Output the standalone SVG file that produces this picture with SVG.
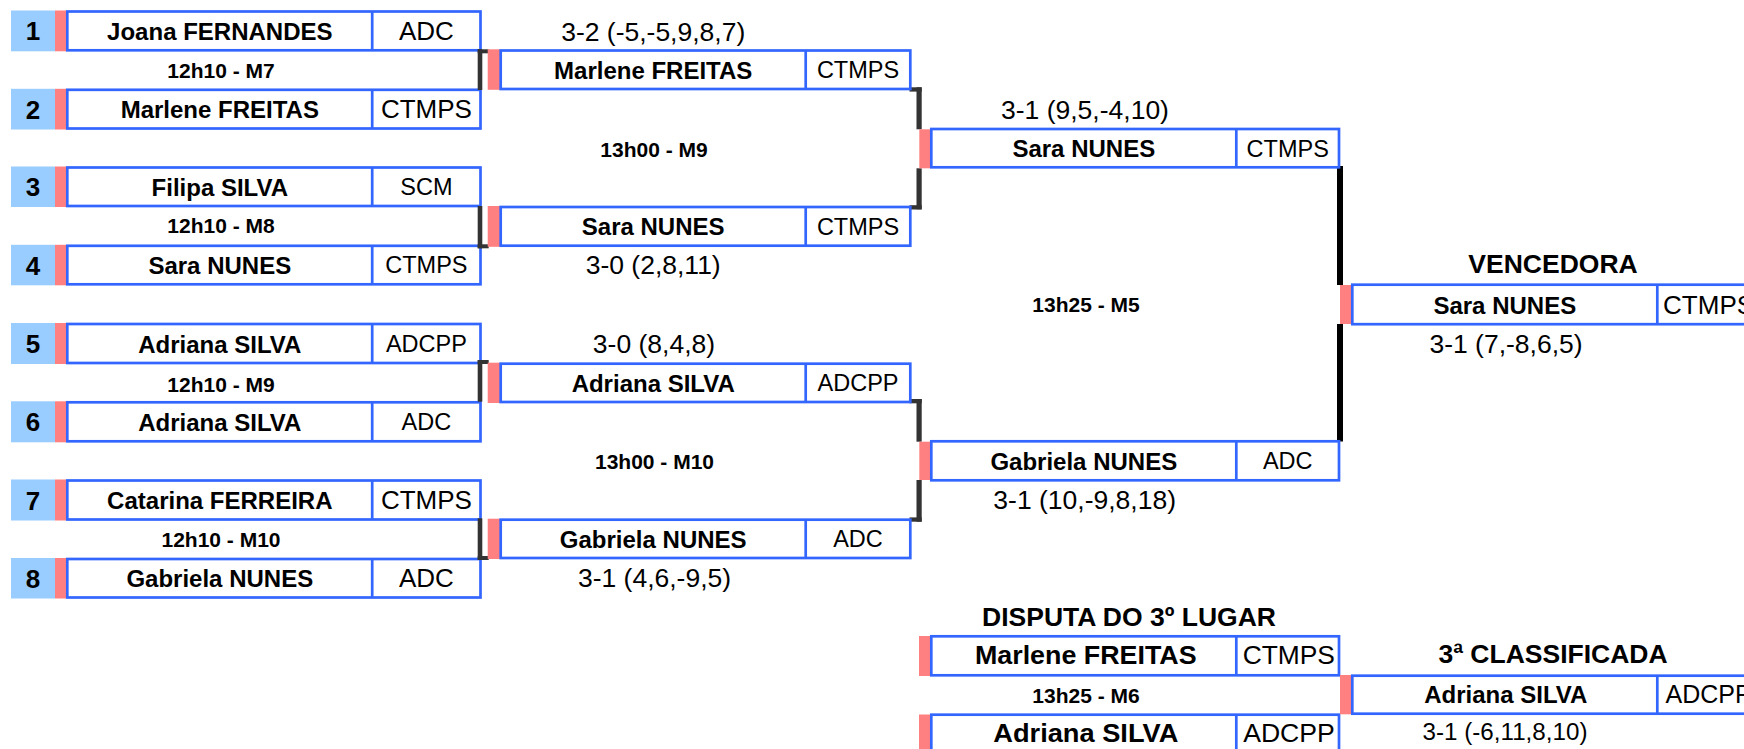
<svg xmlns="http://www.w3.org/2000/svg" width="1744" height="749" viewBox="0 0 1744 749">
<style>
.bg{fill:#fff}
.seed{fill:#99CCFF}
.red{fill:#FF8080}
.box{fill:#fff;stroke:#3366FF;stroke-width:2.7}
.div{stroke:#3366FF;stroke-width:2.7}
.br{fill:#333}
.brf{fill:#000}
text{font-family:"Liberation Sans",Arial,sans-serif;text-anchor:middle;fill:#000}
.sd{font-weight:bold;font-size:26px}
.nm{font-weight:bold;font-size:24px}
.cl{font-size:26px}
.cs{font-size:23.5px}
.sc{font-size:26.5px}
.tm{font-weight:bold;font-size:21px}
.hd{font-weight:bold;font-size:26.5px}
</style>
<rect class="bg" x="0" y="0" width="1744" height="749"/>

<!-- Round 1 -->
<g id="p1"><rect class="seed" x="11" y="10.5" width="44" height="40.8"/><rect class="red" x="55" y="10.5" width="11" height="40.8"/><rect class="box" x="67.3" y="11.5" width="413.2" height="38.8"/><line class="div" x1="372.2" y1="11.5" x2="372.2" y2="50.3"/><text class="sd" x="33" y="40.4">1</text><text class="nm" x="219.8" y="40">Joana FERNANDES</text><text class="cl" x="426.4" y="40">ADC</text></g>
<g id="p2"><rect class="seed" x="11" y="88.8" width="44" height="40.7"/><rect class="red" x="55" y="88.8" width="11" height="40.7"/><rect class="box" x="67.3" y="89.8" width="413.2" height="38.7"/><line class="div" x1="372.2" y1="89.8" x2="372.2" y2="128.5"/><text class="sd" x="33" y="118.7">2</text><text class="nm" x="219.8" y="118.2">Marlene FREITAS</text><text class="cl" x="426.4" y="118.2">CTMPS</text></g>
<g id="p3"><rect class="seed" x="11" y="166.5" width="44" height="40.5"/><rect class="red" x="55" y="166.5" width="11" height="40.5"/><rect class="box" x="67.3" y="167.5" width="413.2" height="38.5"/><line class="div" x1="372.2" y1="167.5" x2="372.2" y2="206"/><text class="sd" x="33" y="196.3">3</text><text class="nm" x="219.8" y="195.8">Filipa SILVA</text><text class="cs" x="426.4" y="195">SCM</text></g>
<g id="p4"><rect class="seed" x="11" y="244.8" width="44" height="40.5"/><rect class="red" x="55" y="244.8" width="11" height="40.5"/><rect class="box" x="67.3" y="245.8" width="413.2" height="38.5"/><line class="div" x1="372.2" y1="245.8" x2="372.2" y2="284.3"/><text class="sd" x="33" y="274.6">4</text><text class="nm" x="219.8" y="274">Sara NUNES</text><text class="cs" x="426.4" y="273.3">CTMPS</text></g>
<g id="p5"><rect class="seed" x="11" y="323" width="44" height="41"/><rect class="red" x="55" y="323" width="11" height="41"/><rect class="box" x="67.3" y="324" width="413.2" height="39"/><line class="div" x1="372.2" y1="324" x2="372.2" y2="363"/><text class="sd" x="33" y="353">5</text><text class="nm" x="219.8" y="352.5">Adriana SILVA</text><text class="cs" x="426.4" y="351.8">ADCPP</text></g>
<g id="p6"><rect class="seed" x="11" y="401.3" width="44" height="41"/><rect class="red" x="55" y="401.3" width="11" height="41"/><rect class="box" x="67.3" y="402.3" width="413.2" height="39"/><line class="div" x1="372.2" y1="402.3" x2="372.2" y2="441.3"/><text class="sd" x="33" y="431.3">6</text><text class="nm" x="219.8" y="430.8">Adriana SILVA</text><text class="cs" x="426.4" y="430">ADC</text></g>
<g id="p7"><rect class="seed" x="11" y="479.5" width="44" height="41"/><rect class="red" x="55" y="479.5" width="11" height="41"/><rect class="box" x="67.3" y="480.5" width="413.2" height="39"/><line class="div" x1="372.2" y1="480.5" x2="372.2" y2="519.5"/><text class="sd" x="33" y="509.5">7</text><text class="nm" x="219.8" y="509">Catarina FERREIRA</text><text class="cl" x="426.4" y="509">CTMPS</text></g>
<g id="p8"><rect class="seed" x="11" y="558" width="44" height="40.5"/><rect class="red" x="55" y="558" width="11" height="40.5"/><rect class="box" x="67.3" y="559" width="413.2" height="38.5"/><line class="div" x1="372.2" y1="559" x2="372.2" y2="597.5"/><text class="sd" x="33" y="587.8">8</text><text class="nm" x="219.8" y="587.3">Gabriela NUNES</text><text class="cl" x="426.4" y="587.3">ADC</text></g>

<g id="times-r1">
<text class="tm" x="221" y="78.3">12h10 - M7</text>
<text class="tm" x="221" y="233.3">12h10 - M8</text>
<text class="tm" x="221" y="391.7">12h10 - M9</text>
<text class="tm" x="221" y="547.3">12h10 - M10</text>
</g>

<!-- Connectors -->
<g id="connectors">
<rect class="br" x="477.7" y="49.3" width="4.6" height="40.7"/><rect class="br" x="477.7" y="49.3" width="11" height="4"/>
<rect class="br" x="477.7" y="206" width="4.6" height="42.3"/><rect class="br" x="477.7" y="244.3" width="11" height="4"/>
<rect class="br" x="477.7" y="360" width="4.6" height="41.7"/><rect class="br" x="477.7" y="360" width="11" height="4"/>
<rect class="br" x="477.7" y="518.3" width="4.6" height="41.7"/><rect class="br" x="477.7" y="556" width="11" height="4"/>

<rect class="br" x="909.5" y="87.3" width="12.2" height="4.3"/><rect class="br" x="916.5" y="87.3" width="5.2" height="42"/>
<rect class="br" x="916.5" y="168.3" width="5.2" height="41"/><rect class="br" x="909.5" y="205.2" width="12.2" height="4.3"/>
<rect class="br" x="909.5" y="399" width="12.2" height="4.3"/><rect class="br" x="916.5" y="399" width="5.2" height="42.7"/>
<rect class="br" x="916.5" y="480" width="5.2" height="41.7"/><rect class="br" x="909.5" y="517.4" width="12.2" height="4.3"/>

<rect class="brf" x="1337" y="166" width="6" height="119"/>
<rect class="brf" x="1337" y="324" width="6" height="117.5"/>
</g>

<!-- Round 2 -->
<g id="r2-m7"><rect class="red" x="487.7" y="49.3" width="12.3" height="40.5"/><rect class="box" x="500.7" y="50.5" width="409.6" height="38.5"/><line class="div" x1="805.7" y1="50.5" x2="805.7" y2="89"/><text class="nm" x="653.2" y="79">Marlene FREITAS</text><text class="cs" x="858" y="78.3">CTMPS</text></g>
<g id="r2-m8"><rect class="red" x="487.7" y="206" width="12.3" height="40.8"/><rect class="box" x="500.7" y="207" width="409.6" height="38.7"/><line class="div" x1="805.7" y1="207" x2="805.7" y2="245.7"/><text class="nm" x="653.2" y="235.4">Sara NUNES</text><text class="cs" x="858" y="234.7">CTMPS</text></g>
<g id="r2-m9"><rect class="red" x="487.7" y="362.7" width="12.3" height="40.3"/><rect class="box" x="500.7" y="363.7" width="409.6" height="38.3"/><line class="div" x1="805.7" y1="363.7" x2="805.7" y2="402"/><text class="nm" x="653.2" y="392">Adriana SILVA</text><text class="cs" x="858" y="391.2">ADCPP</text></g>
<g id="r2-m10"><rect class="red" x="487.7" y="518.7" width="12.3" height="40.3"/><rect class="box" x="500.7" y="519.7" width="409.6" height="38.3"/><line class="div" x1="805.7" y1="519.7" x2="805.7" y2="558"/><text class="nm" x="653.2" y="548">Gabriela NUNES</text><text class="cs" x="858" y="547.2">ADC</text></g>

<g id="labels-r2">
<text class="sc" x="653.2" y="40.7">3-2 (-5,-5,9,8,7)</text>
<text class="tm" x="654" y="156.7">13h00 - M9</text>
<text class="sc" x="653.2" y="274">3-0 (2,8,11)</text>
<text class="sc" x="654" y="353.3">3-0 (8,4,8)</text>
<text class="tm" x="654.5" y="469.3">13h00 - M10</text>
<text class="sc" x="654.5" y="586.7">3-1 (4,6,-9,5)</text>
</g>

<!-- Round 3 -->
<g id="r3-m9"><rect class="red" x="919.3" y="129.3" width="11.2" height="39"/><rect class="box" x="931.3" y="129" width="407.7" height="38.3"/><line class="div" x1="1236.3" y1="129" x2="1236.3" y2="167.3"/><text class="nm" x="1083.8" y="157.2">Sara NUNES</text><text class="cs" x="1287.7" y="156.5">CTMPS</text></g>
<g id="r3-m10"><rect class="red" x="919.3" y="441.7" width="11.2" height="38.3"/><rect class="box" x="931.3" y="441.3" width="407.7" height="39"/><line class="div" x1="1236.3" y1="441.3" x2="1236.3" y2="480.3"/><text class="nm" x="1083.8" y="469.8">Gabriela NUNES</text><text class="cs" x="1287.7" y="469">ADC</text></g>

<g id="labels-r3">
<text class="sc" x="1085" y="119.3">3-1 (9,5,-4,10)</text>
<text class="tm" x="1086" y="311.7">13h25 - M5</text>
<text class="sc" x="1084.7" y="509.3">3-1 (10,-9,8,18)</text>
</g>

<!-- Final -->
<g id="winner"><rect class="red" x="1340" y="285" width="11.5" height="39"/><rect class="box" x="1352.3" y="284.7" width="407.7" height="39.5"/><line class="div" x1="1657.3" y1="284.7" x2="1657.3" y2="324.2"/><text class="nm" x="1504.8" y="313.5">Sara NUNES</text><text class="cl" x="1708.6" y="313.5">CTMPS</text></g>
<text class="hd" x="1553" y="273.3">VENCEDORA</text>
<text class="sc" x="1506" y="353.3">3-1 (7,-8,6,5)</text>

<!-- Third place -->
<text class="hd" x="1129" y="626">DISPUTA DO 3º LUGAR</text>
<g id="third-a"><rect class="red" x="919" y="636" width="12" height="40"/><rect class="box" x="931.3" y="636.3" width="407.7" height="39"/><line class="div" x1="1236.3" y1="636.3" x2="1236.3" y2="675.3"/><text class="nm" style="font-size:25px" x="1085.8" y="664.3" textLength="221.7" lengthAdjust="spacingAndGlyphs">Marlene FREITAS</text><text class="cl" style="font-size:25px" x="1288.8" y="664.3" textLength="92.3" lengthAdjust="spacingAndGlyphs">CTMPS</text></g>
<text class="tm" x="1086" y="702.7">13h25 - M6</text>
<g id="third-b"><rect class="red" x="919" y="714.5" width="12" height="40"/><rect class="box" x="931.3" y="714.7" width="407.7" height="45"/><line class="div" x1="1236.3" y1="714.7" x2="1236.3" y2="760"/><text class="nm" style="font-size:25.5px" x="1085.8" y="741.7" textLength="185" lengthAdjust="spacingAndGlyphs">Adriana SILVA</text><text class="cl" style="font-size:25.5px" x="1289" y="741.7" textLength="91.7" lengthAdjust="spacingAndGlyphs">ADCPP</text></g>
<text class="hd" x="1553" y="663.3">3ª CLASSIFICADA</text>
<g id="third-winner"><rect class="red" x="1340" y="675" width="11.5" height="39.3"/><rect class="box" x="1352.3" y="675.7" width="407.7" height="38"/><line class="div" x1="1657.3" y1="675.7" x2="1657.3" y2="713.7"/><text class="nm" x="1505.8" y="703.3">Adriana SILVA</text><text class="cl" style="font-size:25px" x="1708.6" y="703.3">ADCPP</text></g>
<text class="sc" style="font-size:24.2px" x="1505" y="740">3-1 (-6,11,8,10)</text>
</svg>
